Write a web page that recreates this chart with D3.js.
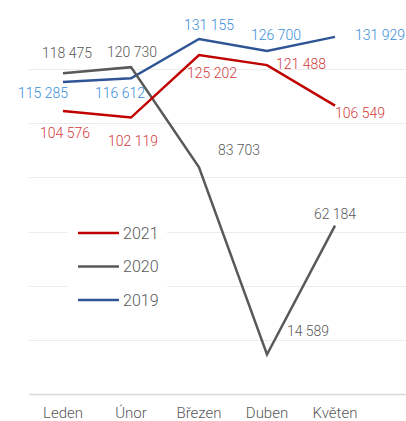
<!DOCTYPE html>
<html>
<head>
<meta charset="utf-8">
<script src="https://cdn.jsdelivr.net/npm/d3@7"></script>
<style>
  html, body { margin: 0; padding: 0; background: #fff; }
  text { font-family: Roboto, "Noto Sans", sans-serif; font-weight: 300; }
</style>
</head>
<body>
<svg id="chart" width="406" height="421"></svg>
<script>
// months on the x axis
const months = ["Leden", "Únor", "Březen", "Duben", "Květen"];
const yTicks = [0, 20000, 40000, 60000, 80000, 100000, 120000];

// values per year
const years = ["2021", "2020", "2019"];
const values2021 = [104576, 102119, 125202, 121488, 106549];
const values2020 = [118475, 120730, 83703, 14589, 62184];
const values2019 = [115285, 116612, 131155, 126700, 131929];

// colours: line, label
const lineColors = { "2021": "#c00000", "2020": "#595959", "2019": "#2f5597" };
const labelColors = { "2021": "#d23c3c", "2020": "#595959", "2019": "#3a8ed8" };

// where each value label sits, relative to its point
const labelOffsets = {
    "2021": [[2, 22], [2, 23], [13, 18], [34, -1], [25, 7]],
    "2020": [[4, -20], [1, -15], [40, -17], [41, -24], [0, -12]],
    "2019": [[-20, 11], [-11, 15], [10, -14], [9, -16], [45, -2]]
};

const series = [
    { year: "2021", values: values2021 },
    { year: "2020", values: values2020 },
    { year: "2019", values: values2019 }
];

const svg = d3.select("#chart");

const x = d3.scalePoint().domain(months).range([29, 369]).padding(0.5);
const y = d3.scaleLinear().domain([0, 140000]).range([394, 15]);

const fmt = v => d3.format(",")(v).replace(/,/g, " ");

//gridlines
svg.append("g")
    .selectAll("line")
    .data(yTicks)
    .enter()
    .append("line")
    .attr("x1", 29)
    .attr("x2", 406)
    .attr("y1", d => Math.round(y(d)) + 0.5)
    .attr("y2", d => Math.round(y(d)) + 0.5)
    .attr("stroke", d => d === 0 ? "#d9d9d9" : "#ececec")
    .attr("stroke-width", d => d === 0 ? 1.5 : 1);

//x axis labels
svg.append("g")
    .selectAll("text")
    .data(months)
    .enter()
    .append("text")
    .attr("x", d => x(d))
    .attr("y", 412.5)
    .attr("text-anchor", "middle")
    .attr("dominant-baseline", "central")
    .attr("font-size", 15)
    .attr("fill", "#595959")
    .text(d => d);

const line = d3.line()
    .x((d, i) => x(months[i]))
    .y(d => y(d));

//lines, draw 2019 first so 2021 stays on top
series.slice().reverse().forEach(s => {
    svg.append("path")
        .datum(s.values)
        .attr("d", line)
        .attr("fill", "none")
        .attr("stroke", lineColors[s.year])
        .attr("stroke-width", 2.5)
        .attr("stroke-linejoin", "miter");
});

//value labels
series.forEach(s => {
    svg.append("g")
        .selectAll("text")
        .data(s.values)
        .enter()
        .append("text")
        .attr("x", (d, i) => x(months[i]) + labelOffsets[s.year][i][0])
        .attr("y", (d, i) => y(d) + labelOffsets[s.year][i][1])
        .attr("text-anchor", "middle")
        .attr("dominant-baseline", "central")
        .attr("font-size", 14)
        .attr("fill", labelColors[s.year])
        .text(d => fmt(d));
});

//legend
const legend = svg.append("g");
legend.append("rect")
    .attr("x", 68)
    .attr("y", 214)
    .attr("width", 99)
    .attr("height", 102)
    .attr("fill", "#fff");

years.forEach((yr, i) => {
    const ly = 233 + i * 33.5;
    legend.append("line")
        .attr("x1", 78)
        .attr("x2", 119)
        .attr("y1", ly)
        .attr("y2", ly)
        .attr("stroke", lineColors[yr])
        .attr("stroke-width", 2.5);
    legend.append("text")
        .attr("x", 123)
        .attr("y", ly)
        .attr("dominant-baseline", "central")
        .attr("font-size", 16)
        .attr("font-weight", 400)
        .attr("fill", "#595959")
        .text(yr);
});
</script>
</body>
</html>
